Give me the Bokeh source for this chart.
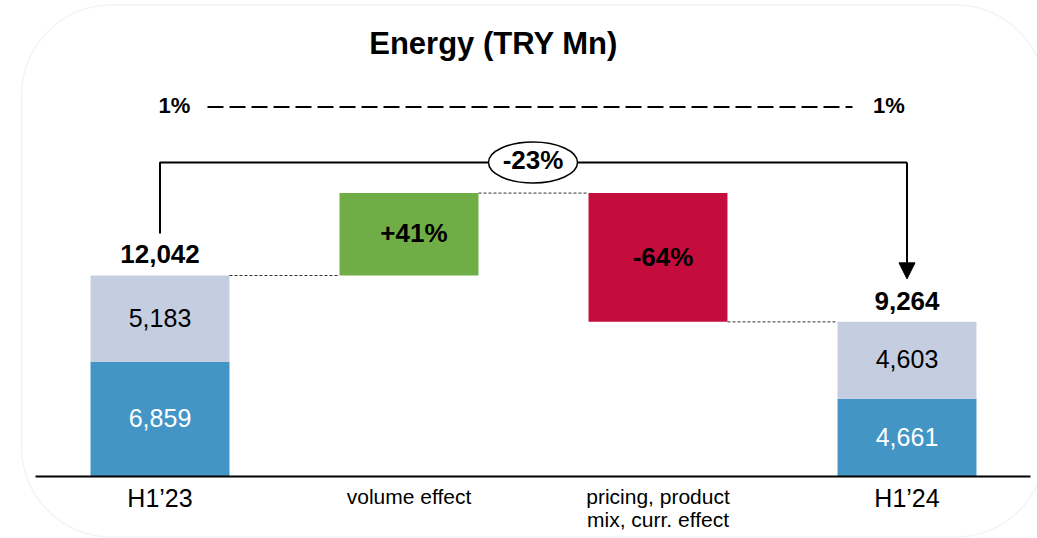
from bokeh.plotting import figure
from bokeh.models import Range1d, BoxAnnotation, Arrow, NormalHead
from bokeh.core.properties import value
from bokeh.embed import file_html
from bokeh.resources import INLINE

# ---------------- data ----------------
title = "Energy (TRY Mn)"
categories = ["H1’23", "volume effect", "pricing, product\nmix, curr. effect", "H1’24"]
h1_23_segments = [6859, 5183]          # bottom (blue), top (light)
h1_24_segments = [4661, 4603]
segment_labels_23 = ["6,859", "5,183"]
segment_labels_24 = ["4,661", "4,603"]
total_labels = ["12,042", "9,264"]
effects = [4937, -7715]                 # volume effect, pricing/mix/currency effect
effect_labels = ["+41%", "-64%"]
change_label = "-23%"
margin_labels = ["1%", "1%"]

seg_colors = ["#4395C6", "#C4CEE0"]
seg_text_colors = ["white", "black"]
effect_colors = ["#70AD47", "#C40D3C"]
FONT = "Liberation Sans"

# ---------------- geometry helpers ----------------
W, H = 1037, 538
OX, OY = 0, 0                # page offset of the figure
upp = 12042 / 201.0          # data units per pixel (vertical)
xpp = 1 / 249.0              # data units per pixel (horizontal)
def Y(page_y):
    return (476 - page_y) * upp
def X(page_x):
    return (page_x - 159.5) * xpp
def px(n):
    return n * upp

p = figure(width=W, height=H, output_backend="svg", toolbar_location=None,
           x_range=Range1d(X(OX), X(OX + W)), y_range=Range1d(Y(OY + H), Y(OY)),
           x_axis_type=None, y_axis_type=None, min_border=0,
           outline_line_color=None, background_fill_color="white",
           border_fill_color="white")
p.grid.visible = False

K = 0.38   # baseline correction (fraction of font size)
def T(xs, ys, texts, size, bold=False, color="black"):
    p.text(x=xs, y=[y + px(K * size) for y in ys], text=texts,
           text_font=value(FONT), text_font_size=f"{size}px",
           text_font_style="bold" if bold else "normal", text_align="center",
           text_baseline="alphabetic", text_color=color)

bw = 0.558
start = sum(h1_23_segments)
end = sum(h1_24_segments)
levels = [start, start + effects[0], start + effects[0] + effects[1]]

# stacked bars
for xi, segs, labs in [(0, h1_23_segments, segment_labels_23), (3, h1_24_segments, segment_labels_24)]:
    bottom = 0
    for i, v in enumerate(segs):
        p.vbar(x=[xi], bottom=[bottom], top=[bottom + v], width=bw,
               fill_color=seg_colors[i], line_color=None)
        T([xi], [bottom + v / 2 - px(8.5)], [labs[i]], 25, color=seg_text_colors[i])
        bottom += v

# effect bars
for i in range(2):
    lo, hi = sorted([levels[i], levels[i + 1]])
    p.vbar(x=[i + 1], bottom=[lo], top=[hi], width=bw,
           fill_color=effect_colors[i], line_color=None)
    T([i + 1 + 0.02], [(lo + hi) / 2 - px(9)], [effect_labels[i]], 26, bold=True)

# connectors
p.segment(x0=[bw / 2, 1 + bw / 2, 2 + bw / 2], x1=[1 - bw / 2, 2 - bw / 2, 3 - bw / 2],
          y0=levels, y1=levels, line_color="#333333", line_width=1, line_dash="3 2")

# totals
T([0, 3], [start + px(12), end + px(11)], total_labels, 26, bold=True)

# baseline
p.line(x=[X(35), X(1030)], y=[0, 0], line_color="black", line_width=2)

# category labels
for i, c in enumerate(categories):
    lines = c.split("\n")
    big = i in (0, 3)
    for j, ln in enumerate(lines):
        yy = -px(31) if big else -px(28 + 23 * j)
        T([i], [yy], [ln], 25 if big else 21)

# title
T([X(493)], [Y(55)], [title], 31, bold=True)

# margin line
p.line(x=[X(207), X(852)], y=[Y(106.5), Y(106.5)], line_color="black",
       line_width=2, line_dash="16 6")
T([X(174), X(888.5)], [Y(113), Y(113)], margin_labels, 22, bold=True)

# bracket with arrow
yb = Y(162)
p.line(x=[0, 0, 3], y=[start + px(42), yb, yb], line_color="black", line_width=2)
p.add_layout(Arrow(x_start=3, y_start=yb, x_end=3, y_end=end + px(43),
                   line_color="black", line_width=2,
                   end=NormalHead(size=16, fill_color="black", line_color="black")))
xm = X(532.5)
p.ellipse(x=[xm], y=[yb], width=89, height=41, width_units="screen",
          height_units="screen", fill_color="white", line_color="black", line_width=1.5)
T([xm], [Y(169)], [change_label], 26, bold=True)

# rounded frame
p.add_layout(BoxAnnotation(left=X(21), right=X(1045), top=Y(4.5), bottom=Y(536.5),
                           border_radius=90, fill_alpha=0, line_color="#D9D9D9",
                           line_width=1.5))

open("out.html", "w").write(file_html(p, INLINE))
